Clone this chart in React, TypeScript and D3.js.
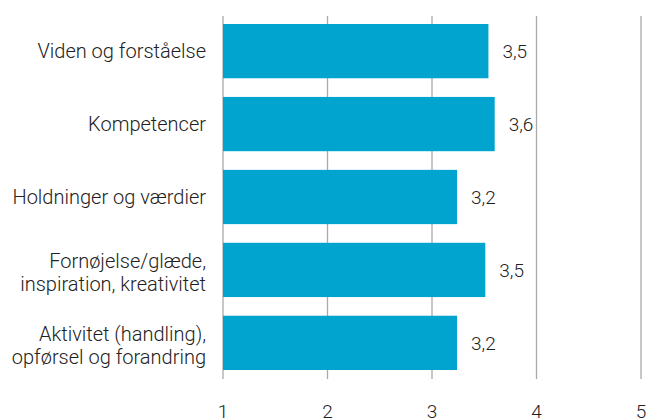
import React from 'react';
import * as d3 from 'd3';

const categories = [
    ['Viden og forståelse'],
    ['Kompetencer'],
    ['Holdninger og værdier'],
    ['Fornøjelse/glæde,', 'inspiration, kreativitet'],
    ['Aktivitet (handling),', 'opførsel og forandring']
];
const values = [3.54, 3.6, 3.24, 3.51, 3.24];
const valueLabels = ['3,5', '3,6', '3,2', '3,5', '3,2'];
const ticks = [1, 2, 3, 4, 5];

export default function App()
{
    const width = 646;
    const height = 418;
    const font = 'Roboto, sans-serif';
    const fs = 19;

    const x = d3.scaleLinear().domain([1, 5]).range([223, 641]);
    const y = d3.scaleBand<number>()
        .domain(d3.range(categories.length))
        .range([24, 370])
        .paddingInner(0.256)
        .paddingOuter(0);

    const grid = ticks.map(function(t)
    {
        return (
            <line key={'g' + t} x1={x(t)} x2={x(t)} y1={16} y2={379}
                  stroke="#a9a9a9" strokeWidth={1.3}/>
        );
    });

    const bars = values.map(function(v, i)
    {
        return (
            <rect key={'b' + i} x={x(1)} y={y(i)} width={x(v) - x(1)}
                  height={y.bandwidth()} fill="#00a4cf"/>
        );
    });

    const labels = values.map(function(v, i)
    {
        const cy = (y(i) as number) + y.bandwidth() / 2;
        return (
            <text key={'v' + i} x={x(v) + 14} y={cy} dy="0.36em"
                  fontSize={fs} fontWeight={300} fill="#222">{valueLabels[i]}</text>
        );
    });

    const cats = categories.map(function(lines, i)
    {
        const cy = (y(i) as number) + y.bandwidth() / 2 + (lines.length > 1 ? 2 : 0);
        const lh = 23;
        const start = cy - (lines.length - 1) * lh / 2;
        return (
            <text key={'c' + i} x={206} textAnchor="end"
                  fontSize={20} fontWeight={300} fill="#222">
                {lines.map(function(l, j)
                {
                    return <tspan key={j} x={206} y={start + j * lh} dy="0.36em">{l}</tspan>;
                })}
            </text>
        );
    });

    const tickLabels = ticks.map(function(t)
    {
        return (
            <text key={'t' + t} x={x(t)} y={418} textAnchor="middle"
                  fontSize={fs} fontWeight={300} fill="#222">{t}</text>
        );
    });

    return (
        <div style={{position: 'absolute', left: 0, top: 0, width: width, height: height, background: '#fff'}}>
            <svg width={width} height={height} style={{display: 'block', fontFamily: font}}>
                {grid}
                {bars}
                {labels}
                {cats}
                {tickLabels}
            </svg>
        </div>
    );
}
